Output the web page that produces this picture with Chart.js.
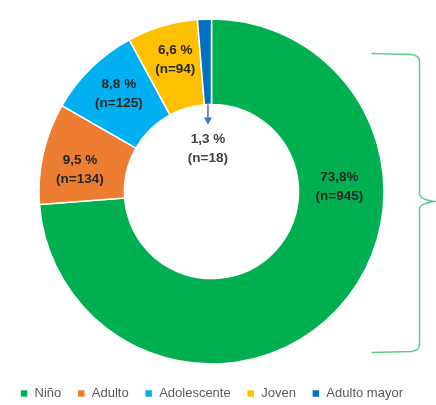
<!DOCTYPE html>
<html>
<head>
<meta charset="utf-8">
<script src="https://cdn.jsdelivr.net/npm/chart.js@4.4.0/dist/chart.umd.min.js"></script>
<style>
  html, body { margin: 0; padding: 0; background: #fff; }
  #wrap { width: 436px; height: 405px; }
</style>
</head>
<body>
<div id="wrap"><canvas id="myChart" width="436" height="405"></canvas></div>
<script>
// data
const categories = ['Niño', 'Adulto', 'Adolescente', 'Joven', 'Adulto mayor']
const percents = [73.8, 9.5, 8.8, 6.6, 1.3]
const counts = [945, 134, 125, 94, 18]
const pctLabels = ['73,8%', '9,5 %', '8,8 %', '6,6 %', '1,3 %']
const colors = ['#00b050', '#ed7d31', '#00b0f0', '#ffc000', '#0070c0']

// labels on the slices + arrow for the small slice
const sliceLabels = {
    id: 'sliceLabels',
    afterDatasetsDraw(chart) {
        const ctx = chart.ctx
        const meta = chart.getDatasetMeta(0)
        // small nudges from the slice centre (px)
        const nudge = [[0, 0], [-5, 7], [-2, -5], [3, 0], [0, 0]]
        ctx.save()
        ctx.font = 'bold 13.5px "Liberation Sans", Arial, sans-serif'
        ctx.textAlign = 'center'
        ctx.textBaseline = 'middle'
        meta.data.forEach((arc, i) => {
            const p = arc.getProps(['x', 'y', 'startAngle', 'endAngle', 'innerRadius', 'outerRadius'], true)
            let mid = (p.startAngle + p.endAngle) / 2
            let r = (p.innerRadius + p.outerRadius) / 2
            if (i === 0) { mid = -0.035; r = 128 }   // label sits at the right of the ring
            if (i === 3) { r += 8 }
            let lx = p.x + Math.cos(mid) * r + nudge[i][0]
            let ly = p.y + Math.sin(mid) * r + nudge[i][1]
            if (i === 4) {
                // arrow from the thin slice into the hole
                const ax = p.x + Math.cos(mid) * p.innerRadius
                const ay = p.y + Math.sin(mid) * p.innerRadius
                const tipY = ay + 20
                ctx.strokeStyle = '#4472c4'
                ctx.fillStyle = '#4472c4'
                ctx.lineWidth = 1.5
                ctx.beginPath()
                ctx.moveTo(ax, ay)
                ctx.lineTo(ax, tipY - 5)
                ctx.stroke()
                ctx.beginPath()
                ctx.moveTo(ax - 4, tipY - 7)
                ctx.lineTo(ax + 4, tipY - 7)
                ctx.lineTo(ax, tipY)
                ctx.closePath()
                ctx.fill()
                lx = ax
                ly = tipY + 24
                ctx.fillStyle = '#404040'
            } else {
                ctx.fillStyle = '#262626'
            }
            ctx.fillText(pctLabels[i], lx, ly - 9.5)
            ctx.fillText('(n=' + counts[i] + ')', lx, ly + 9.5)
        })
        ctx.restore()
    }
}

// curly brace at the right side of the ring
const brace = {
    id: 'brace',
    afterDraw(chart) {
        const ctx = chart.ctx
        const arc = chart.getDatasetMeta(0).data[0]
        const cx = arc.x, cy = arc.y
        const x0 = cx + 160, x1 = cx + 208, tip = cx + 223
        const top = cy - 138, bottom = cy + 161, mid = cy + 10
        ctx.save()
        ctx.strokeStyle = '#5ccb8c'
        ctx.lineWidth = 1.5
        ctx.beginPath()
        ctx.moveTo(x0, top)
        ctx.lineTo(x1 - 8, top + 1)
        ctx.quadraticCurveTo(x1, top + 2, x1, top + 8)
        ctx.lineTo(x1, mid - 8)
        ctx.quadraticCurveTo(x1, mid - 2, tip, mid)
        ctx.quadraticCurveTo(x1, mid + 2, x1, mid + 8)
        ctx.lineTo(x1, bottom - 8)
        ctx.quadraticCurveTo(x1, bottom - 2, x1 - 8, bottom - 1)
        ctx.lineTo(x0, bottom)
        ctx.stroke()
        ctx.restore()
    }
}

const config = {
    type: 'doughnut',
    data: {
        labels: categories,
        datasets: [{
            data: percents,
            backgroundColor: colors,
            borderColor: '#ffffff',
            borderWidth: 1.5
        }]
    },
    plugins: [sliceLabels, brace],
    options: {
        responsive: false,
        animation: false,
        radius: 172.5,
        cutout: '50.5%',
        layout: {
            padding: { left: 0, right: 13, top: 12, bottom: -5 }
        },
        plugins: {
            tooltip: { enabled: false },
            legend: {
                position: 'bottom',
                labels: {
                    boxWidth: 8,
                    boxHeight: 8,
                    padding: 16,
                    color: '#595959',
                    font: { size: 13, family: '"Liberation Sans", Arial, sans-serif' }
                }
            }
        }
    }
}

const myChart = new Chart(document.getElementById('myChart'), config)
</script>
</body>
</html>
